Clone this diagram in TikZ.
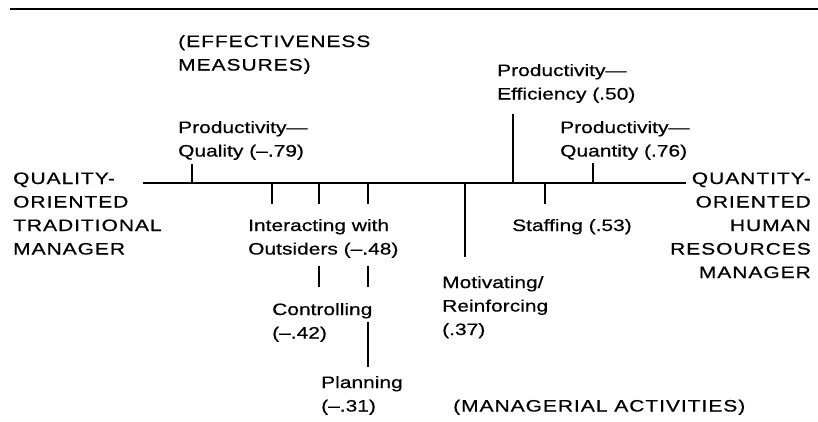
\documentclass[tikz,border=0pt]{standalone}
\usepackage{fontspec}
\setmainfont{Liberation Sans}[FakeStretch=1.27,FakeBold=0.6]
\newfontfamily\capsfont{Liberation Sans}[FakeStretch=1.27,FakeBold=0.6,LetterSpace=6]

\begin{document}
\begin{tikzpicture}[x=1pt,y=-1pt,
    lbl/.style={inner sep=0pt,anchor=base west,align=left,
      font=\fontsize{16.5}{23.5}\selectfont},
    caps/.style={lbl,font=\capsfont\fontsize{16.5}{23.5}\selectfont},
    rcaps/.style={caps,anchor=base east,align=right},
    tick/.style={line width=1.3pt}]
  \useasboundingbox (0,0) rectangle (818,421);
  \draw [line width=2.4pt] (10,9) -- (818,9);
  % the scale (nodes placed at the baseline of their last line)
  \coordinate (axl) at (143,183);
  \coordinate (axr) at (686,183);
  \draw [tick] (axl) -- (axr);
  \node [caps] (qualm) at (13,254.5) {QUALITY-\\ORIENTED\\TRADITIONAL\\MANAGER};
  \node [rcaps] (quanm) at (811,278) {QUANTITY-\\ORIENTED\\HUMAN\\RESOURCES\\MANAGER};
  % effectiveness measures, above
  \node [caps] (effm) at (178,70.5) {(EFFECTIVENESS\\MEASURES)};
  \node [lbl] (pqual) at (178,156.5) {Productivity—\\Quality (–.79)};
  \node [lbl] (peff) at (497,99.5) {Productivity—\\Efficiency (.50)};
  \node [lbl] (pquan) at (560,156.5) {Productivity—\\Quantity (.76)};
  \foreach \n/\x/\h in {qual/192/19, eff/513/69, quan/593/20}{
    \coordinate (up\n) at (\x,183);
    \draw [tick] (up\n) -- ++(0,-\h);
  }
  % managerial activities, below
  \node [lbl] (inter) at (248,254.5) {Interacting with\\Outsiders (–.48)};
  \node [lbl] (staff) at (512,231) {Staffing (.53)};
  \node [lbl] (contr) at (272,338.5) {Controlling\\(–.42)};
  \node [lbl] (motiv) at (442,335) {Motivating/\\Reinforcing\\(.37)};
  \node [lbl] (plan) at (321,411.5) {Planning\\(–.31)};
  \node [caps] (mact) at (453,411.5) {(MANAGERIAL\ ACTIVITIES)};
  \foreach \n/\x/\h in {int/272/21, con/319/21, pla/368/21, mot/465/74, sta/545/21}{
    \coordinate (dn\n) at (\x,183);
    \draw [tick] (dn\n) -- ++(0,\h);
  }
  \coordinate (con2) at (319,266);
  \coordinate (pla2) at (368,266);
  \coordinate (pla3) at (368,322);
  \draw [tick] (con2) -- ++(0,21);
  \draw [tick] (pla2) -- ++(0,21);
  \draw [tick] (pla3) -- ++(0,45);
\end{tikzpicture}
\end{document}
